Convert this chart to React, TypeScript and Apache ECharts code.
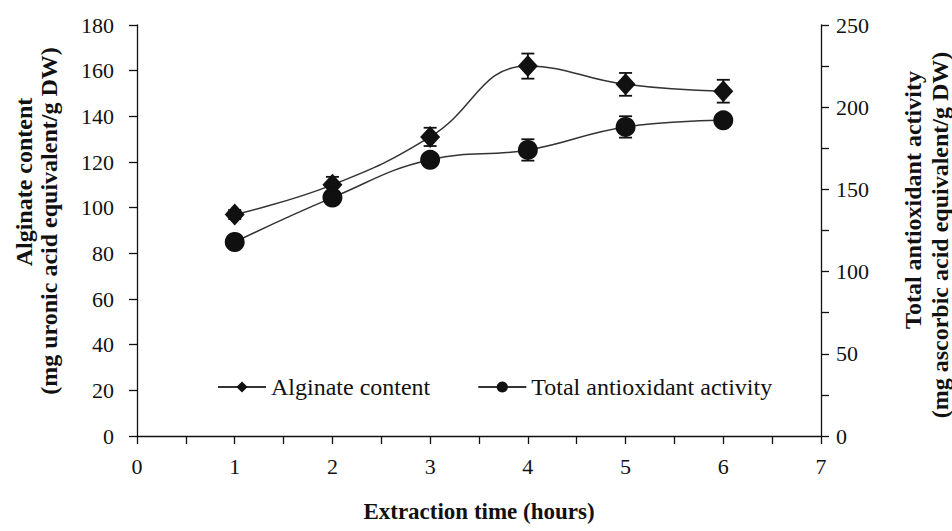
import React, { useEffect, useRef } from "react";
import * as echarts from "echarts";

const hours = [1, 2, 3, 4, 5, 6];
const alginate = [97, 110, 131, 162, 154, 151];
const alginateErr = [2, 3.5, 4, 5.5, 5, 5];
const antioxidant = [118, 145, 168, 174, 188, 192];
const antioxidantErr = [2, 3, 3, 6.5, 6.5, 3];
const seriesNames = ["Alginate content", "Total antioxidant activity"];
const xTitle = "Extraction time (hours)";
const leftTitle = ["Alginate content", "(mg uronic acid equivalent/g DW)"];
const rightTitle = ["Total antioxidant activity", "(mg ascorbic acid equivalent/g DW)"];

const FONT = "'Liberation Serif', 'Times New Roman', serif";
const INK = "#111";

function errorBar(params: any, api: any) {
  const x = api.value(0);
  const y = api.value(1);
  const e = api.value(2);
  const top = api.coord([x, y + e]);
  const bot = api.coord([x, y - e]);
  const cap = 6.5;
  const style = { stroke: INK, lineWidth: 1.8 };
  return {
    type: "group",
    children: [
      { type: "line", shape: { x1: top[0], y1: top[1], x2: bot[0], y2: bot[1] }, style },
      { type: "line", shape: { x1: top[0] - cap, y1: top[1], x2: top[0] + cap, y2: top[1] }, style },
      { type: "line", shape: { x1: bot[0] - cap, y1: bot[1], x2: bot[0] + cap, y2: bot[1] }, style },
    ],
  };
}

export default function App() {
  const ref = useRef<HTMLDivElement>(null);
  useEffect(() => {
    if (!ref.current) return;
    const chart = echarts.init(ref.current, null, { renderer: "svg" });
    const axisCommon = {
      axisLine: { show: true, lineStyle: { color: INK, width: 1.3 } },
      axisTick: { show: true, inside: false, length: 8, lineStyle: { color: INK, width: 1.3 } },
      splitLine: { show: false },
      axisLabel: { color: INK, fontFamily: FONT, fontSize: 22 },
    };
    chart.setOption({
      animation: false,
      backgroundColor: "#fff",
      grid: { left: 137, right: 131, top: 25, bottom: 95, containLabel: false },
      legend: {
        left: 212,
        top: 370,
        itemWidth: 48,
        itemHeight: 14,
        itemGap: 47,
        data: seriesNames,
        textStyle: { color: INK, fontFamily: FONT, fontSize: 24 },
      },
      xAxis: {
        type: "value",
        min: 0,
        max: 7,
        interval: 1,
        ...axisCommon,
        minorTick: { show: true, splitNumber: 2, length: 8, lineStyle: { color: INK, width: 1.3 } },
        axisLabel: { ...axisCommon.axisLabel, margin: 19 },
        name: xTitle,
        nameLocation: "middle",
        nameGap: 64,
        nameTextStyle: { color: INK, fontFamily: FONT, fontSize: 23, fontWeight: "bold" },
      },
      yAxis: [
        {
          type: "value",
          min: 0,
          max: 180,
          interval: 20,
          position: "left",
          ...axisCommon,
          axisLabel: { ...axisCommon.axisLabel, margin: 23 },
        },
        {
          type: "value",
          min: 0,
          max: 250,
          interval: 50,
          position: "right",
          ...axisCommon,
          minorTick: { show: true, splitNumber: 2, length: 8, lineStyle: { color: INK, width: 1.3 } },
          axisLabel: { ...axisCommon.axisLabel, margin: 15 },
        },
      ],
      graphic: [
        {
          type: "text", x: 24, y: 182, rotation: Math.PI / 2,
          style: { text: leftTitle[0], fill: INK, font: `bold 24px ${FONT}`, align: "center", verticalAlign: "middle" },
        },
        {
          type: "text", x: 49, y: 221, rotation: Math.PI / 2,
          style: { text: leftTitle[1], fill: INK, font: `bold 24px ${FONT}`, align: "center", verticalAlign: "middle" },
        },
        {
          type: "text", x: 913, y: 200, rotation: Math.PI / 2,
          style: { text: rightTitle[0], fill: INK, font: `bold 24px ${FONT}`, align: "center", verticalAlign: "middle" },
        },
        {
          type: "text", x: 940, y: 235, rotation: Math.PI / 2,
          style: { text: rightTitle[1], fill: INK, font: `bold 24px ${FONT}`, align: "center", verticalAlign: "middle" },
        },
      ],
      series: [
        {
          name: seriesNames[0],
          type: "line",
          yAxisIndex: 0,
          smooth: 0.45,
          symbol: "diamond",
          symbolSize: [20, 22],
          itemStyle: { color: INK },
          lineStyle: { color: "#333", width: 1.5 },
          data: hours.map((h, i) => [h, alginate[i]]),
          z: 3,
        },
        {
          name: seriesNames[1],
          type: "line",
          yAxisIndex: 1,
          smooth: 0.45,
          symbol: "circle",
          symbolSize: 20,
          itemStyle: { color: INK },
          lineStyle: { color: "#333", width: 1.5 },
          data: hours.map((h, i) => [h, antioxidant[i]]),
          z: 3,
        },
        {
          type: "custom",
          yAxisIndex: 0,
          renderItem: errorBar,
          data: hours.map((h, i) => [h, alginate[i], alginateErr[i]]),
          z: 4,
          silent: true,
        },
        {
          type: "custom",
          yAxisIndex: 1,
          renderItem: errorBar,
          data: hours.map((h, i) => [h, antioxidant[i], antioxidantErr[i]]),
          z: 4,
          silent: true,
        },
      ],
    });
    return () => chart.dispose();
  }, []);
  return <div ref={ref} style={{ width: 952, height: 531, position: "absolute", left: 0, top: 0 }} />;
}
